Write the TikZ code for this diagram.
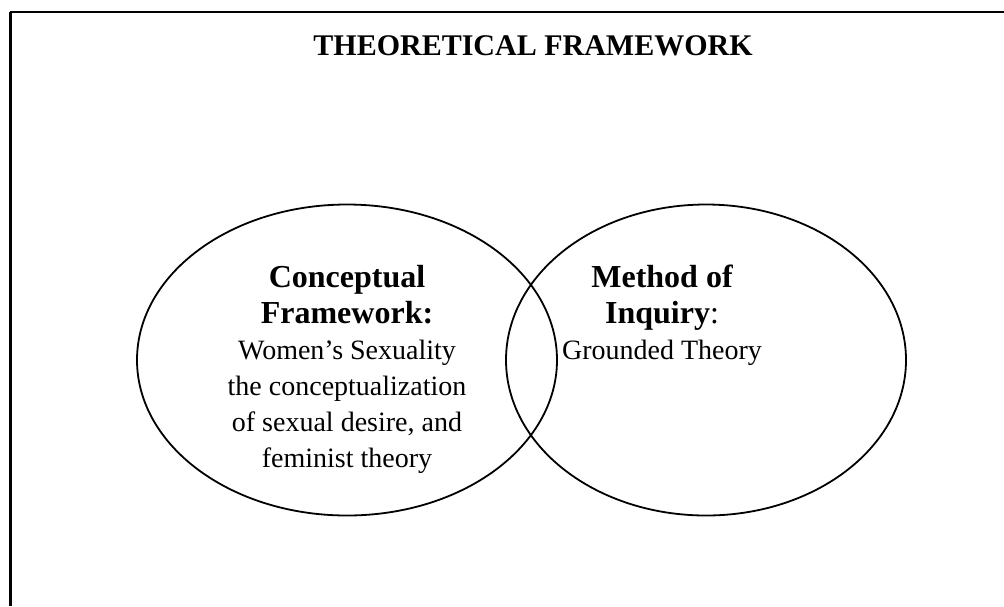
\documentclass[tikz,border=0pt]{standalone}
\usepackage{fontspec}
\setmainfont{Liberation Serif}
\usetikzlibrary{shapes.geometric}

\newcommand{\letratitulo}{\fontsize{15}{18}\selectfont\bfseries}
\newcommand{\cabeza}{\fontsize{16}{18}\selectfont\bfseries}
\newcommand{\cuerpo}{\fontsize{14}{18}\selectfont\mdseries}

\begin{document}
\begin{tikzpicture}[x=0.5pt, y=-0.5pt,
    ovalo/.style={draw, ellipse, line width=0.9pt, minimum height=155.5pt, inner sep=0pt},
    texto/.style={align=center, inner sep=0pt, anchor=north, font=\cuerpo}]

    \useasboundingbox (0,0) rectangle (1004,606);

    \draw[line width=1pt] (10,12) -- (1004,12);
    \draw[line width=1.5pt] (10,11.5) -- (10,606);

    \node[anchor=base, font=\letratitulo] (titulo) at (533,55) {THEORETICAL FRAMEWORK};

    \foreach \nombre/\x/\ancho in {
        conceptual/347/210pt,
        metodo/706/200pt%
    } {
        \node[ovalo, minimum width=\ancho] (\nombre) at (\x,360) {};
    }

    \node[texto] (tconceptual) at (347,265) {\cabeza Conceptual\\ \cabeza Framework:\\
        Women's Sexuality\\ the conceptualization\\
        of sexual desire, and\\ feminist theory};
    \node[texto] (tmetodo) at (662,265) {\cabeza Method of\\ \cabeza Inquiry{\mdseries:}\\
        Grounded Theory};

\end{tikzpicture}
\end{document}
